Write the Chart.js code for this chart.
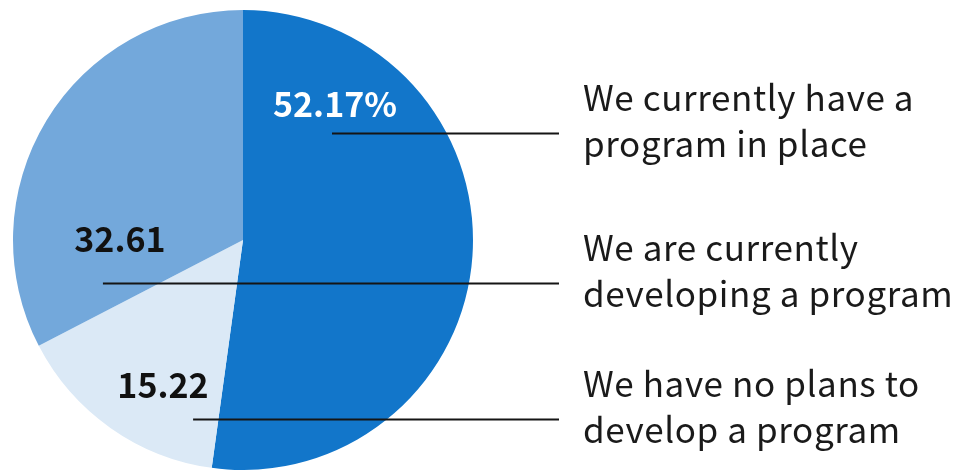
<!DOCTYPE html>
<html>
<head>
<meta charset="utf-8">
<script src="https://cdn.jsdelivr.net/npm/chart.js@4/dist/chart.umd.min.js"></script>
<style>
  body { margin: 0; background: #ffffff; }
  #wrap { width: 953px; height: 470px; }
</style>
</head>
<body>
<div id="wrap"><canvas id="programChart" width="953" height="470"></canvas></div>
<script>
// slices in clockwise order from 12 o'clock
const categories = [
    "We currently have a program in place",
    "We have no plans to develop a program",
    "We are currently developing a program"
];
const shares = [52.17, 15.22, 32.61];
const valueLabels = ["52.17%", "15.22", "32.61"];
const legendLines = [
    ["We currently have a", "program in place"],
    ["We have no plans to", "develop a program"],
    ["We are currently", "developing a program"]
];
const sliceColors = ["#1276ca", "#dbe9f6", "#73a8db"];

// where each callout sits, as fractions of the pie radius
const callouts = [
    { labelX: 0.40, labelY: -0.535, color: "#ffffff", lineX: 0.387, lineY: -0.465 },
    { labelX: -0.348, labelY: 0.687, color: "#111111", lineX: -0.217, lineY: 0.778 },
    { labelX: -0.535, labelY: 0.052, color: "#111111", lineX: -0.609, lineY: 0.187 }
];

const FONT = "'Noto Sans CJK JP', 'Noto Sans', sans-serif";

const calloutPlugin = {
    id: "callouts",
    afterDatasetsDraw(chart) {
        const arc = chart.getDatasetMeta(0).data[0];
        const cx = arc.x, cy = arc.y, r = arc.outerRadius;
        const ctx = chart.ctx;
        const textX = cx + 340;
        const lineEnd = textX - 24;

        ctx.save();
        callouts.forEach((c, i) => {
            // value label
            ctx.letterSpacing = "0px";
            ctx.font = "bold 34px " + FONT;
            ctx.fillStyle = c.color;
            ctx.textAlign = "center";
            ctx.textBaseline = "alphabetic";
            ctx.fillText(valueLabels[i], cx + c.labelX * r, cy + c.labelY * r);

            // leader line
            const ly = Math.round(cy + c.lineY * r) + 0.5;
            ctx.strokeStyle = "#151515";
            ctx.lineWidth = 2;
            ctx.beginPath();
            ctx.moveTo(cx + c.lineX * r, ly);
            ctx.lineTo(lineEnd, ly);
            ctx.stroke();

            // category text
            ctx.font = "35px " + FONT;
            ctx.letterSpacing = "0.6px";
            ctx.fillStyle = "#1a1a1a";
            ctx.textAlign = "left";
            ctx.fillText(legendLines[i][0], textX, ly - 23);
            ctx.fillText(legendLines[i][1], textX, ly + 23);
        });
        ctx.restore();
    }
};

new Chart(document.getElementById("programChart"), {
    type: "pie",
    data: {
        labels: categories,
        datasets: [{
            data: shares,
            backgroundColor: sliceColors,
            borderWidth: 0
        }]
    },
    options: {
        responsive: false,
        animation: false,
        layout: {
            padding: { left: 13, right: 480, top: 10, bottom: 0 }
        },
        plugins: {
            legend: { display: false },
            tooltip: { enabled: false }
        }
    },
    plugins: [calloutPlugin]
});
</script>
</body>
</html>
